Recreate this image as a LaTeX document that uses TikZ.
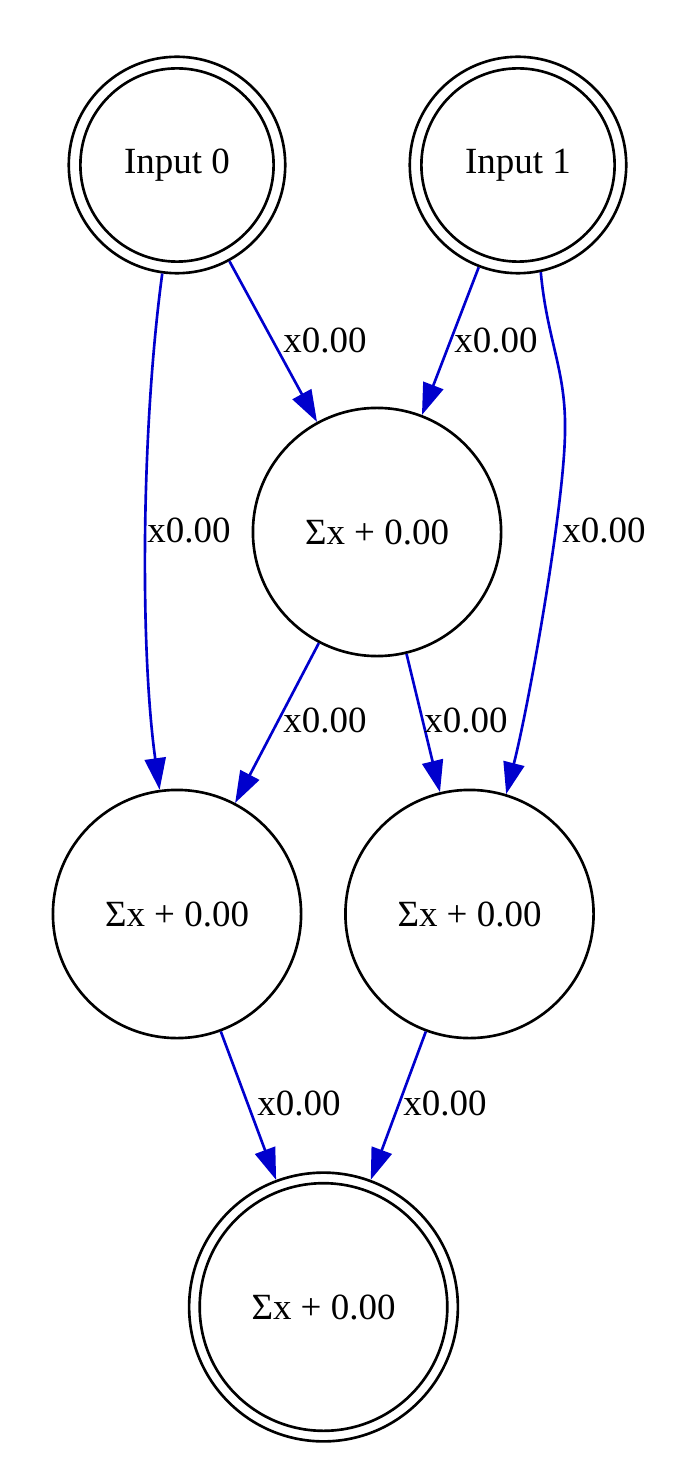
\documentclass[tikz,border=0pt]{standalone}
\usepackage{fontspec}
\setmainfont{Liberation Serif}
\usetikzlibrary{arrows.meta}
\definecolor{edgeblue}{RGB}{0,0,205}
\begin{document}
\begin{tikzpicture}[x=0.3788pt,y=-0.3788pt,
  txt/.style={font=\fontsize{14}{16}\selectfont},
  neuron/.style={circle, draw, line width=1pt, inner sep=0pt, minimum size=94pt, txt},
  ioneuron/.style={circle, draw, line width=1pt, inner sep=0pt, minimum size=82pt, txt},
  outneuron/.style={circle, draw, line width=1pt, inner sep=0pt, minimum size=101.8pt, txt},
  ring/.style={draw, line width=1pt},
  conn/.style={draw=edgeblue, line width=1pt, -{Triangle[length=12pt,width=8pt,fill=edgeblue]}},
  wlabel/.style={txt, inner sep=0pt}
]
\useasboundingbox (0,0) rectangle (694,1474);

\node[ioneuron] (i0) at (177,165) {Input 0};
\node[ioneuron] (i1) at (518,165) {Input 1};
\node[neuron] (m) at (377,532) {Σx + 0.00};
\node[neuron] (h1) at (177,914) {Σx + 0.00};
\node[neuron] (h2) at (469.5,914) {Σx + 0.00};
\node[outneuron] (o) at (323.5,1307) {Σx + 0.00};

\draw[ring] (i0.center) circle[radius=36.6pt];
\draw[ring] (i1.center) circle[radius=36.6pt];
\draw[ring] (o.center) circle[radius=46.9pt];

\draw[conn] (i0) -- (m);
\draw[conn] (i0) .. controls (141,430) and (140,650) .. (h1);
\draw[conn] (i1) -- (m);
\draw[conn] (i1.-78) .. controls (547,340) and (566,370) .. (565,430)
  .. controls (565,500) and (530,700) .. (h2.73);
\draw[conn] (m) -- (h1);
\draw[conn] (m) -- (h2);
\draw[conn] (h1) -- (o);
\draw[conn] (h2) -- (o);

\node[wlabel] (l1) at (325,340) {x0.00};
\node[wlabel] (l2) at (189,530) {x0.00};
\node[wlabel] (l3) at (496,340) {x0.00};
\node[wlabel] (l4) at (604,530) {x0.00};
\node[wlabel] (l5) at (325,720) {x0.00};
\node[wlabel] (l6) at (466,720) {x0.00};
\node[wlabel] (l7) at (299,1103) {x0.00};
\node[wlabel] (l8) at (445,1103) {x0.00};
\end{tikzpicture}
\end{document}
